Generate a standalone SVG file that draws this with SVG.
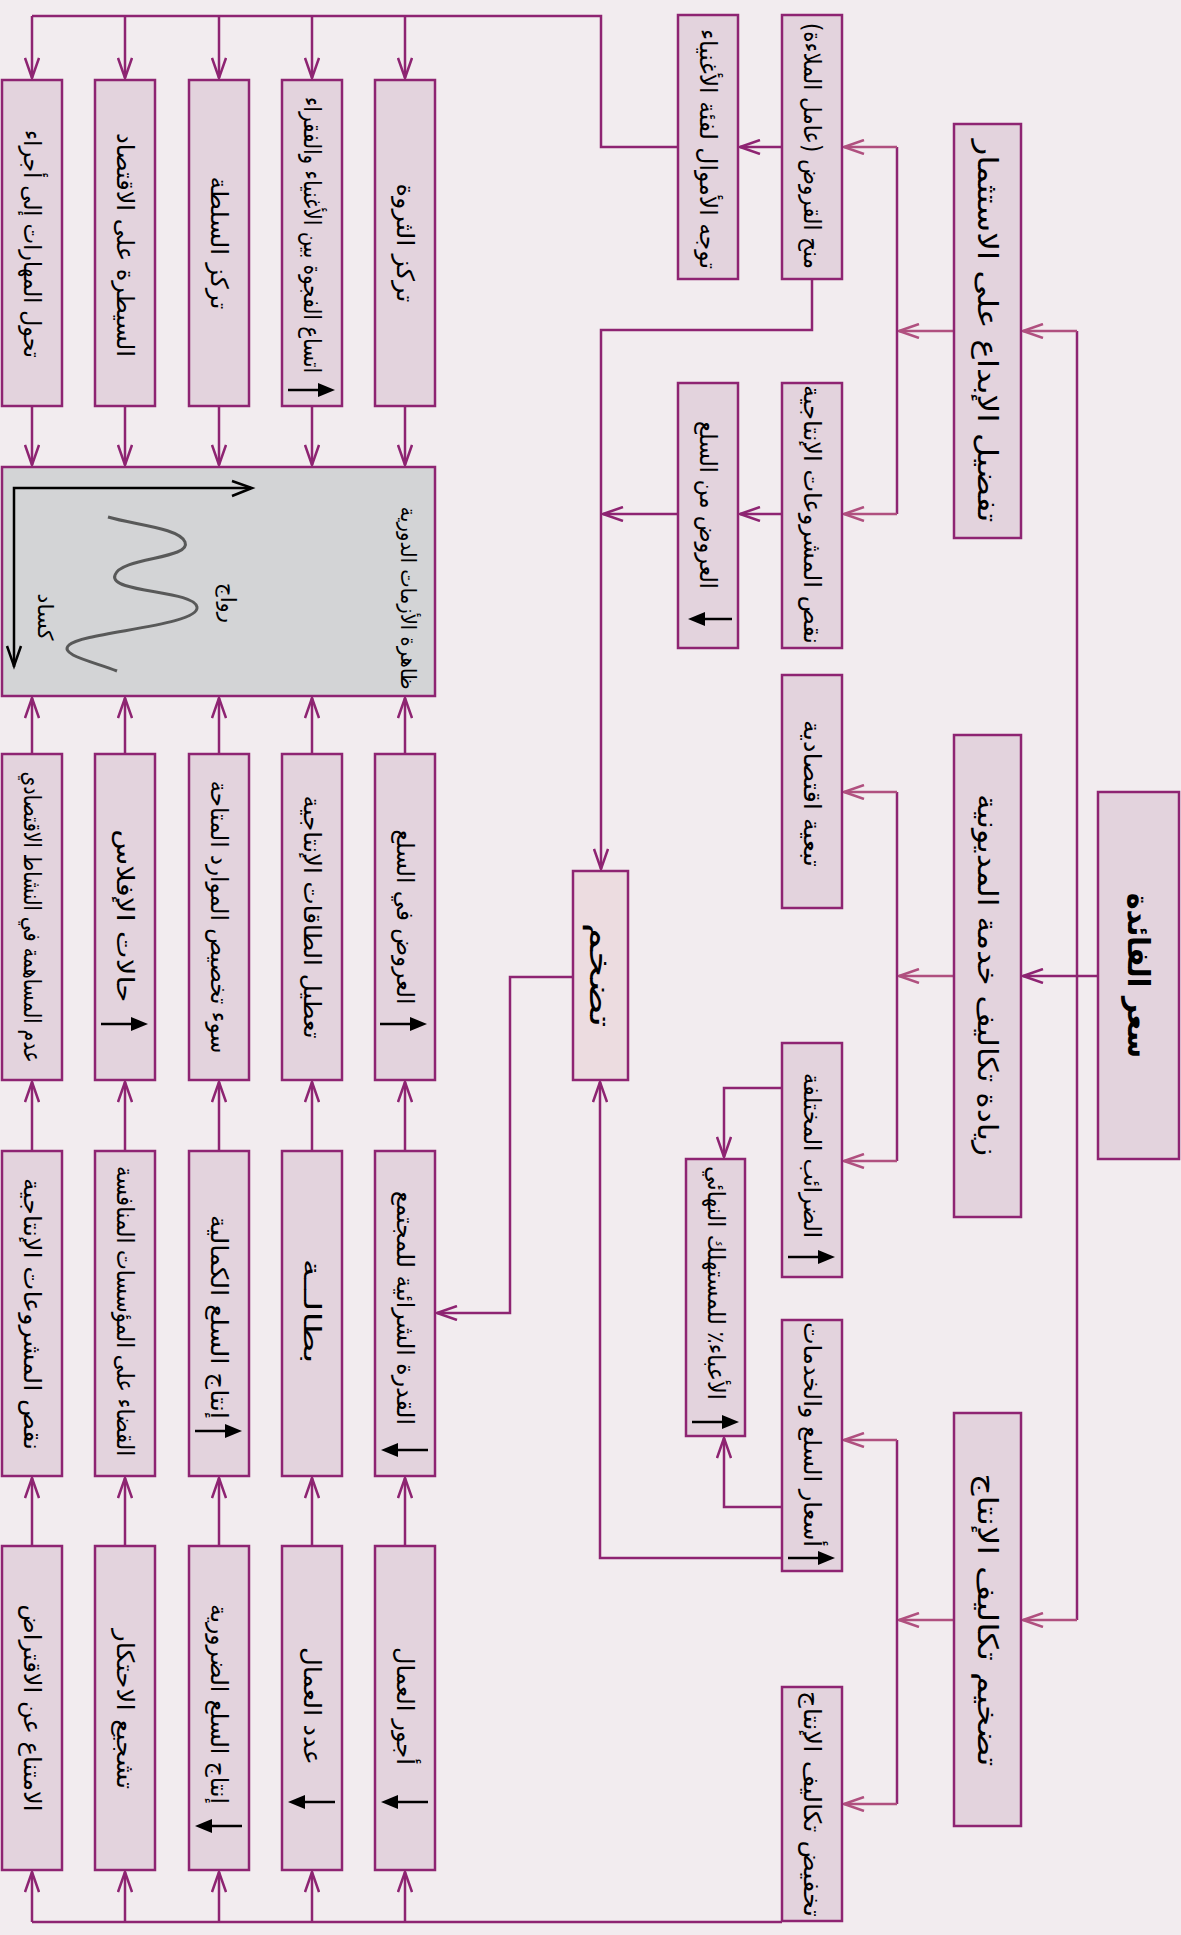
<svg xmlns="http://www.w3.org/2000/svg" width="1181" height="1935" viewBox="0 0 1181 1935">
<defs>
<style>
.box{fill:#e3d3dd;stroke:#8e2472;stroke-width:2.5}
.t{font-family:"DejaVu Sans",sans-serif;font-size:24px;fill:#000;text-anchor:middle;dominant-baseline:central}
.big{font-size:28px}
.c{fill:none;stroke:#8e2472;stroke-width:2.5}
.p{fill:none;stroke:#b0507f;stroke-width:2.5}
.g{stroke:#000;stroke-width:2.5}
</style>
<marker id="ah" viewBox="0 0 22 16" refX="21" refY="8" markerWidth="22" markerHeight="16" orient="auto" markerUnits="userSpaceOnUse"><path d="M1,1 L21,8 L1,15" fill="none" stroke="#8e2472" stroke-width="2.5"/></marker>
<marker id="ap" viewBox="0 0 22 16" refX="21" refY="8" markerWidth="22" markerHeight="16" orient="auto" markerUnits="userSpaceOnUse"><path d="M1,1 L21,8 L1,15" fill="none" stroke="#b0507f" stroke-width="2.5"/></marker>
<path id="rt" d="M0,-7 L17,0 L0,7 Z"/>
</defs>
<rect width="1181" height="1935" fill="#f2ecef"/>

<g id="connectors">
<path class="c" d="M1098,976 H1023" marker-end="url(#ah)"/>
<path class="c" d="M1077,331 V1620"/>
<path class="p" d="M1077,331 H1023" marker-end="url(#ap)"/>
<path class="p" d="M1077,1620 H1023" marker-end="url(#ap)"/>
<path class="p" d="M954,331 H899" marker-end="url(#ap)"/>
<path class="p" d="M954,976 H899" marker-end="url(#ap)"/>
<path class="p" d="M954,1620 H899" marker-end="url(#ap)"/>
<path class="c" d="M897,147 V514 M897,792 V1161 M897,1440 V1804"/>
<path class="p" d="M897,147 H844" marker-end="url(#ap)"/>
<path class="p" d="M897,514 H844" marker-end="url(#ap)"/>
<path class="p" d="M897,792 H844" marker-end="url(#ap)"/>
<path class="p" d="M897,1161 H844" marker-end="url(#ap)"/>
<path class="p" d="M897,1440 H844" marker-end="url(#ap)"/>
<path class="p" d="M897,1804 H844" marker-end="url(#ap)"/>
<path class="c" d="M782,147 H740" marker-end="url(#ah)"/>
<path class="c" d="M782,514 H740" marker-end="url(#ah)"/>
<path class="c" d="M812,279 V330 H601 V869" marker-end="url(#ah)"/>
<path class="c" d="M678,514 H603" marker-end="url(#ah)"/>
<path class="c" d="M678,147 H601 V16 H32"/>
<path class="c" d="M32,16 V78" marker-end="url(#ah)"/>
<path class="c" d="M125,16 V78" marker-end="url(#ah)"/>
<path class="c" d="M219,16 V78" marker-end="url(#ah)"/>
<path class="c" d="M312,16 V78" marker-end="url(#ah)"/>
<path class="c" d="M405,16 V78" marker-end="url(#ah)"/>
<path class="c" d="M782,1088 H724 V1157" marker-end="url(#ah)"/>
<path class="c" d="M782,1507 H724 V1438" marker-end="url(#ah)"/>
<path class="c" d="M782,1558 H600 V1082" marker-end="url(#ah)"/>
<path class="c" d="M573,977 H510 V1313 H437" marker-end="url(#ah)"/>
<path class="c" d="M782,1922 H32"/>
<path class="c" d="M32,1922 V1872" marker-end="url(#ah)"/>
<path class="c" d="M125,1922 V1872" marker-end="url(#ah)"/>
<path class="c" d="M219,1922 V1872" marker-end="url(#ah)"/>
<path class="c" d="M312,1922 V1872" marker-end="url(#ah)"/>
<path class="c" d="M405,1922 V1872" marker-end="url(#ah)"/>
<path class="c" d="M32,406 V465" marker-end="url(#ah)"/>
<path class="c" d="M125,406 V465" marker-end="url(#ah)"/>
<path class="c" d="M219,406 V465" marker-end="url(#ah)"/>
<path class="c" d="M312,406 V465" marker-end="url(#ah)"/>
<path class="c" d="M405,406 V465" marker-end="url(#ah)"/>
<path class="c" d="M32,754 V698" marker-end="url(#ah)"/>
<path class="c" d="M125,754 V698" marker-end="url(#ah)"/>
<path class="c" d="M219,754 V698" marker-end="url(#ah)"/>
<path class="c" d="M312,754 V698" marker-end="url(#ah)"/>
<path class="c" d="M405,754 V698" marker-end="url(#ah)"/>
<path class="c" d="M32,1151 V1082" marker-end="url(#ah)"/>
<path class="c" d="M125,1151 V1082" marker-end="url(#ah)"/>
<path class="c" d="M219,1151 V1082" marker-end="url(#ah)"/>
<path class="c" d="M312,1151 V1082" marker-end="url(#ah)"/>
<path class="c" d="M405,1151 V1082" marker-end="url(#ah)"/>
<path class="c" d="M32,1546 V1478" marker-end="url(#ah)"/>
<path class="c" d="M125,1546 V1478" marker-end="url(#ah)"/>
<path class="c" d="M219,1546 V1478" marker-end="url(#ah)"/>
<path class="c" d="M312,1546 V1478" marker-end="url(#ah)"/>
<path class="c" d="M405,1546 V1478" marker-end="url(#ah)"/>
</g>

<g id="n_rate"><rect class="box" x="1098" y="792" width="81" height="367"/><text class="t" style="font-size:30px;font-weight:bold" x="1138.5" y="975.5" transform="rotate(90 1138.5 975.5)" textLength="165" lengthAdjust="spacingAndGlyphs">سعر الفائدة</text></g>
<g id="n_innov"><rect class="box" x="954" y="124" width="67" height="414"/><text class="t big" x="987.5" y="331" transform="rotate(90 987.5 331)" textLength="383" lengthAdjust="spacingAndGlyphs">تفضيل الإبداع على الاستثمار</text></g>
<g id="n_debt"><rect class="box" x="954" y="735" width="67" height="482"/><text class="t big" x="987.5" y="975" transform="rotate(90 987.5 975)" textLength="362" lengthAdjust="spacingAndGlyphs">زيادة تكاليف خدمة المديونية</text></g>
<g id="n_costs"><rect class="box" x="954" y="1413" width="67" height="413"/><text class="t big" x="987.5" y="1620" transform="rotate(90 987.5 1620)" textLength="293" lengthAdjust="spacingAndGlyphs">تضخيم تكاليف الإنتاج</text></g>

<g id="n_loans"><rect class="box" x="782" y="15" width="60" height="264"/><text class="t" x="812" y="146" transform="rotate(90 812 146)" textLength="246" lengthAdjust="spacingAndGlyphs">منح القروض (عامل الملاءة)</text></g>
<g id="n_lackproj1"><rect class="box" x="782" y="383" width="60" height="265"/><text class="t" x="812" y="514.5" transform="rotate(90 812 514.5)" textLength="259" lengthAdjust="spacingAndGlyphs">نقص المشروعات الإنتاجية</text></g>
<g id="n_dep"><rect class="box" x="782" y="675" width="60" height="233"/><text class="t" x="812" y="793.5" transform="rotate(90 812 793.5)" textLength="147" lengthAdjust="spacingAndGlyphs">تبعية اقتصادية</text></g>
<g id="n_tax"><rect class="box" x="782" y="1043" width="60" height="234"/><text class="t" x="812" y="1155.5" transform="rotate(90 812 1155.5)" textLength="165" lengthAdjust="spacingAndGlyphs">الضرائب المختلفة</text><line class="g" x1="788" y1="1257" x2="820" y2="1257"/><use href="#rt" x="818" y="1257"/></g>
<g id="n_prices"><rect class="box" x="782" y="1320" width="60" height="251"/><text class="t" x="812" y="1434.5" transform="rotate(90 812 1434.5)" textLength="225" lengthAdjust="spacingAndGlyphs">أسعار السلع والخدمات</text><line class="g" x1="788" y1="1558" x2="820" y2="1558"/><use href="#rt" x="818" y="1558"/></g>
<g id="n_reduce"><rect class="box" x="782" y="1687" width="60" height="234"/><text class="t" x="812" y="1804" transform="rotate(90 812 1804)" textLength="226" lengthAdjust="spacingAndGlyphs">تخفيض تكاليف الإنتاج</text></g>

<g id="n_wealthy"><rect class="box" x="678" y="15" width="60" height="264"/><text class="t" x="708" y="149" transform="rotate(90 708 149)" textLength="240" lengthAdjust="spacingAndGlyphs">توجه الأموال لفئة الأغنياء</text></g>
<g id="n_supply1"><rect class="box" x="678" y="383" width="60" height="265"/><text class="t" x="708" y="505" transform="rotate(90 708 505)" textLength="168" lengthAdjust="spacingAndGlyphs">العروض من السلع</text><line class="g" x1="702" y1="619" x2="732" y2="619"/><use href="#rt" transform="translate(705 619) rotate(180)"/></g>
<g id="n_burden"><rect class="box" x="686" y="1159" width="59" height="277"/><text class="t" x="715.5" y="1283" transform="rotate(90 715.5 1283)" textLength="234" lengthAdjust="spacingAndGlyphs">الأعباء٪ للمستهلك النهائي</text><line class="g" x1="692" y1="1422" x2="724" y2="1422"/><use href="#rt" x="722" y="1422"/></g>

<g id="n_inflation"><rect x="573" y="871" width="55" height="209" fill="#ecdce0" stroke="#8e2472" stroke-width="2.5"/><text class="t" style="font-size:30px" x="600.5" y="975" transform="rotate(90 600.5 975)" textLength="105" lengthAdjust="spacingAndGlyphs">تضخم</text></g>

<g id="n_skills"><rect class="box" x="2" y="80" width="60" height="326"/><text class="t" x="32" y="244" transform="rotate(90 32 244)" textLength="228" lengthAdjust="spacingAndGlyphs">تحول المهارات إلى أجراء</text></g>
<g id="n_control"><rect class="box" x="95" y="80" width="60" height="326"/><text class="t" x="125" y="245" transform="rotate(90 125 245)" textLength="224" lengthAdjust="spacingAndGlyphs">السيطرة على الاقتصاد</text></g>
<g id="n_power"><rect class="box" x="189" y="80" width="60" height="326"/><text class="t" x="219" y="243" transform="rotate(90 219 243)" textLength="133" lengthAdjust="spacingAndGlyphs">تركز السلطة</text></g>
<g id="n_gap"><rect class="box" x="282" y="80" width="60" height="326"/><text class="t" x="312" y="235" transform="rotate(90 312 235)" textLength="276" lengthAdjust="spacingAndGlyphs">اتساع الفجوة بين الأغنياء والفقراء</text><line class="g" x1="288" y1="390" x2="320" y2="390"/><use href="#rt" x="318" y="390"/></g>
<g id="n_wealth"><rect class="box" x="375" y="80" width="60" height="326"/><text class="t" x="405" y="243" transform="rotate(90 405 243)" textLength="119" lengthAdjust="spacingAndGlyphs">تركز الثروة</text></g>

<g id="n_cycles">
<rect x="2" y="467" width="433" height="229" fill="#d3d4d6" stroke="#8e2472" stroke-width="2.5"/>
<path d="M14,667 V488 H251" fill="none" stroke="#000" stroke-width="2.5"/>
<path d="M232,481 L252,488 L232,496 M7,646 L14,666 L21,646" fill="none" stroke="#000" stroke-width="2.5"/>
<path d="M117,671 C95,662 58,655 69,645 C82,632 200,626 197,607 C194,590 108,593 115,575 C121,557 192,559 185,542 C179,528 135,525 108,517" fill="none" stroke="#3a3a3a" stroke-width="3" opacity="0.8"/>
<text class="t" style="font-size:21px" x="408" y="598" transform="rotate(90 408 598)" textLength="183" lengthAdjust="spacingAndGlyphs">ظاهرة الأزمات الدورية</text>
<text class="t" style="font-size:21px" x="228" y="603" transform="rotate(90 228 603)" textLength="40" lengthAdjust="spacingAndGlyphs">رواج</text>
<text class="t" style="font-size:21px" x="45" y="617" transform="rotate(90 45 617)" textLength="47" lengthAdjust="spacingAndGlyphs">كساد</text>
</g>

<g id="n_noparticip"><rect class="box" x="2" y="754" width="60" height="326"/><text class="t" x="32" y="917" transform="rotate(90 32 917)" textLength="291" lengthAdjust="spacingAndGlyphs">عدم المساهمة في النشاط الاقتصادي</text></g>
<g id="n_bankrupt"><rect class="box" x="95" y="754" width="60" height="326"/><text class="t" x="125" y="916" transform="rotate(90 125 916)" textLength="173" lengthAdjust="spacingAndGlyphs">حالات الإفلاس</text><line class="g" x1="101" y1="1024" x2="133" y2="1024"/><use href="#rt" x="131" y="1024"/></g>
<g id="n_misalloc"><rect class="box" x="189" y="754" width="60" height="326"/><text class="t" x="219" y="917" transform="rotate(90 219 917)" textLength="273" lengthAdjust="spacingAndGlyphs">سوء تخصيص الموارد المتاحة</text></g>
<g id="n_idle"><rect class="box" x="282" y="754" width="60" height="326"/><text class="t" x="312" y="917" transform="rotate(90 312 917)" textLength="243" lengthAdjust="spacingAndGlyphs">تعطيل الطاقات الإنتاجية</text></g>
<g id="n_supply2"><rect class="box" x="375" y="754" width="60" height="326"/><text class="t" x="405" y="917" transform="rotate(90 405 917)" textLength="175" lengthAdjust="spacingAndGlyphs">العروض في السلع</text><line class="g" x1="380" y1="1024" x2="412" y2="1024"/><use href="#rt" x="410" y="1024"/></g>

<g id="n_lackproj2"><rect class="box" x="2" y="1151" width="60" height="325"/><text class="t" x="32" y="1314" transform="rotate(90 32 1314)" textLength="272" lengthAdjust="spacingAndGlyphs">نقص المشروعات الإنتاجية</text></g>
<g id="n_elim"><rect class="box" x="95" y="1151" width="60" height="325"/><text class="t" x="125" y="1311" transform="rotate(90 125 1311)" textLength="290" lengthAdjust="spacingAndGlyphs">القضاء على المؤسسات المنافسة</text></g>
<g id="n_luxury"><rect class="box" x="189" y="1151" width="60" height="325"/><text class="t" x="219" y="1317" transform="rotate(90 219 1317)" textLength="204" lengthAdjust="spacingAndGlyphs">إنتاج السلع الكمالية</text><line class="g" x1="195" y1="1431" x2="227" y2="1431"/><use href="#rt" x="225" y="1431"/></g>
<g id="n_unemp"><rect class="box" x="282" y="1151" width="60" height="325"/><text class="t" x="312" y="1311" transform="rotate(90 312 1311)" textLength="105" lengthAdjust="spacingAndGlyphs">بطالــة</text></g>
<g id="n_purchase"><rect class="box" x="375" y="1151" width="60" height="325"/><text class="t" x="405" y="1308" transform="rotate(90 405 1308)" textLength="234" lengthAdjust="spacingAndGlyphs">القدرة الشرائية للمجتمع</text><line class="g" x1="396" y1="1450" x2="428" y2="1450"/><use href="#rt" transform="translate(398 1450) rotate(180)"/></g>

<g id="n_noborrow"><rect class="box" x="2" y="1546" width="60" height="324"/><text class="t" x="32" y="1708" transform="rotate(90 32 1708)" textLength="207" lengthAdjust="spacingAndGlyphs">الامتناع عن الاقتراض</text></g>
<g id="n_monopoly"><rect class="box" x="95" y="1546" width="60" height="324"/><text class="t" x="125" y="1709" transform="rotate(90 125 1709)" textLength="160" lengthAdjust="spacingAndGlyphs">تشجيع الاحتكار</text></g>
<g id="n_necess"><rect class="box" x="189" y="1546" width="60" height="324"/><text class="t" x="219" y="1704" transform="rotate(90 219 1704)" textLength="200" lengthAdjust="spacingAndGlyphs">إنتاج السلع الضرورية</text><line class="g" x1="210" y1="1826" x2="242" y2="1826"/><use href="#rt" transform="translate(212 1826) rotate(180)"/></g>
<g id="n_workers"><rect class="box" x="282" y="1546" width="60" height="324"/><text class="t" x="312" y="1706" transform="rotate(90 312 1706)" textLength="118" lengthAdjust="spacingAndGlyphs">عدد العمال</text><line class="g" x1="303" y1="1802" x2="335" y2="1802"/><use href="#rt" transform="translate(305 1802) rotate(180)"/></g>
<g id="n_wages"><rect class="box" x="375" y="1546" width="60" height="324"/><text class="t" x="405" y="1706" transform="rotate(90 405 1706)" textLength="118" lengthAdjust="spacingAndGlyphs">أجور العمال</text><line class="g" x1="396" y1="1802" x2="428" y2="1802"/><use href="#rt" transform="translate(398 1802) rotate(180)"/></g>
</svg>
